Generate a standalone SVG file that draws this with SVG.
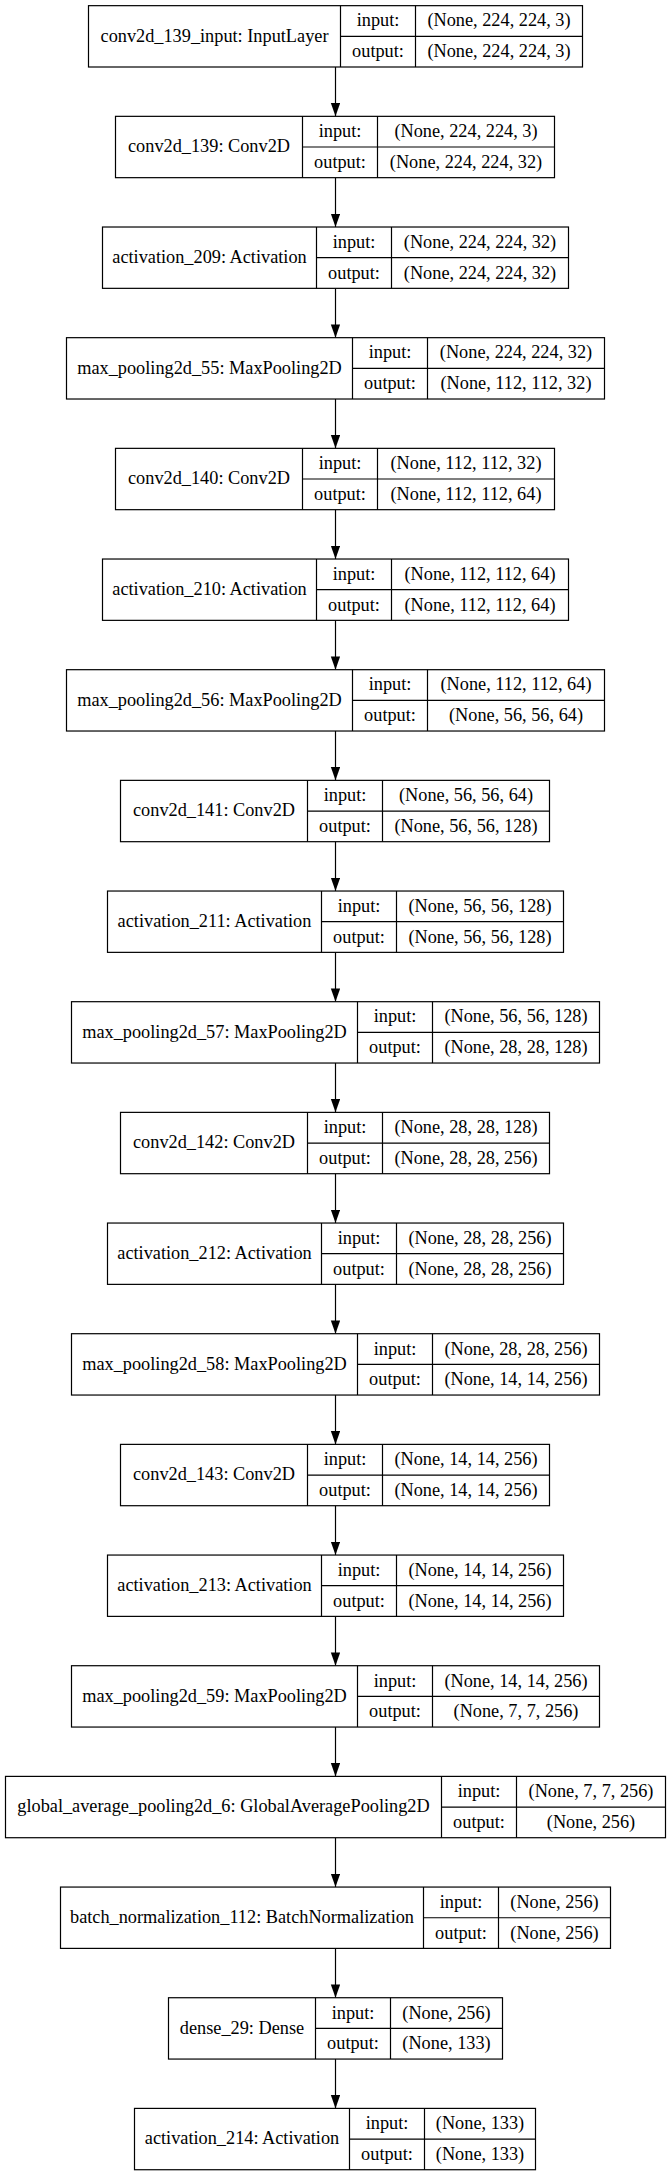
<svg xmlns="http://www.w3.org/2000/svg" width="671" height="2176" viewBox="0 0 671 2176">
<style>
.bx{fill:#fff;stroke:#000;stroke-width:1.2}
.ln{stroke:#000;stroke-width:1.2;fill:none}
text{font-family:"Liberation Serif","Times New Roman",serif;font-size:18.3px;fill:#000;text-anchor:middle}
.edge{stroke:#000;stroke-width:1.2;fill:none;marker-end:url(#arr)}
</style>
<defs>
<marker id="arr" markerUnits="userSpaceOnUse" markerWidth="14" markerHeight="10" refX="13.3" refY="4.67" orient="auto">
<path d="M0,0 L13.3,4.67 L0,9.33 z" fill="#000"/>
</marker>
</defs>
<rect width="671" height="2176" fill="#fff"/>
<g id="connectors">
<path class="edge" d="M335.5,67.0 V116.34"/>
<path class="edge" d="M335.5,177.67 V227.01"/>
<path class="edge" d="M335.5,288.34 V337.68"/>
<path class="edge" d="M335.5,399.01 V448.35"/>
<path class="edge" d="M335.5,509.68 V559.02"/>
<path class="edge" d="M335.5,620.35 V669.69"/>
<path class="edge" d="M335.5,731.02 V780.36"/>
<path class="edge" d="M335.5,841.69 V891.03"/>
<path class="edge" d="M335.5,952.36 V1001.70"/>
<path class="edge" d="M335.5,1063.03 V1112.37"/>
<path class="edge" d="M335.5,1173.70 V1223.04"/>
<path class="edge" d="M335.5,1284.37 V1333.71"/>
<path class="edge" d="M335.5,1395.04 V1444.38"/>
<path class="edge" d="M335.5,1505.71 V1555.05"/>
<path class="edge" d="M335.5,1616.38 V1665.72"/>
<path class="edge" d="M335.5,1727.05 V1776.39"/>
<path class="edge" d="M335.5,1837.72 V1887.06"/>
<path class="edge" d="M335.5,1948.39 V1997.73"/>
<path class="edge" d="M335.5,2059.06 V2108.40"/>
</g>

<g id="node0" transform="translate(0,5.67)">
<rect class="bx" x="88.5" y="0" width="494" height="61.33"/>
<path class="ln" d="M340.5,0 V61.33 M415.5,0 V61.33 M340.5,30.67 H582.5"/>
<text x="214.5" y="36.1">conv2d_139_input: InputLayer</text>
<text x="378" y="20.8">input:</text><text x="378" y="51.5">output:</text>
<text x="499" y="20.8">(None, 224, 224, 3)</text><text x="499" y="51.5">(None, 224, 224, 3)</text>
</g>

<g id="node1" transform="translate(0,116.34)">
<rect class="bx" x="115.5" y="0" width="439" height="61.33"/>
<path class="ln" d="M302.5,0 V61.33 M377.5,0 V61.33 M302.5,30.67 H554.5"/>
<text x="209" y="36.1">conv2d_139: Conv2D</text>
<text x="340" y="20.8">input:</text><text x="340" y="51.5">output:</text>
<text x="466" y="20.8">(None, 224, 224, 3)</text><text x="466" y="51.5">(None, 224, 224, 32)</text>
</g>

<g id="node2" transform="translate(0,227.01)">
<rect class="bx" x="102.5" y="0" width="466" height="61.33"/>
<path class="ln" d="M316.5,0 V61.33 M391.5,0 V61.33 M316.5,30.67 H568.5"/>
<text x="209.5" y="36.1">activation_209: Activation</text>
<text x="354" y="20.8">input:</text><text x="354" y="51.5">output:</text>
<text x="480" y="20.8">(None, 224, 224, 32)</text><text x="480" y="51.5">(None, 224, 224, 32)</text>
</g>

<g id="node3" transform="translate(0,337.68)">
<rect class="bx" x="66.5" y="0" width="538" height="61.33"/>
<path class="ln" d="M352.5,0 V61.33 M427.5,0 V61.33 M352.5,30.67 H604.5"/>
<text x="209.5" y="36.1">max_pooling2d_55: MaxPooling2D</text>
<text x="390" y="20.8">input:</text><text x="390" y="51.5">output:</text>
<text x="516" y="20.8">(None, 224, 224, 32)</text><text x="516" y="51.5">(None, 112, 112, 32)</text>
</g>

<g id="node4" transform="translate(0,448.35)">
<rect class="bx" x="115.5" y="0" width="439" height="61.33"/>
<path class="ln" d="M302.5,0 V61.33 M377.5,0 V61.33 M302.5,30.67 H554.5"/>
<text x="209" y="36.1">conv2d_140: Conv2D</text>
<text x="340" y="20.8">input:</text><text x="340" y="51.5">output:</text>
<text x="466" y="20.8">(None, 112, 112, 32)</text><text x="466" y="51.5">(None, 112, 112, 64)</text>
</g>

<g id="node5" transform="translate(0,559.02)">
<rect class="bx" x="102.5" y="0" width="466" height="61.33"/>
<path class="ln" d="M316.5,0 V61.33 M391.5,0 V61.33 M316.5,30.67 H568.5"/>
<text x="209.5" y="36.1">activation_210: Activation</text>
<text x="354" y="20.8">input:</text><text x="354" y="51.5">output:</text>
<text x="480" y="20.8">(None, 112, 112, 64)</text><text x="480" y="51.5">(None, 112, 112, 64)</text>
</g>

<g id="node6" transform="translate(0,669.69)">
<rect class="bx" x="66.5" y="0" width="538" height="61.33"/>
<path class="ln" d="M352.5,0 V61.33 M427.5,0 V61.33 M352.5,30.67 H604.5"/>
<text x="209.5" y="36.1">max_pooling2d_56: MaxPooling2D</text>
<text x="390" y="20.8">input:</text><text x="390" y="51.5">output:</text>
<text x="516" y="20.8">(None, 112, 112, 64)</text><text x="516" y="51.5">(None, 56, 56, 64)</text>
</g>

<g id="node7" transform="translate(0,780.36)">
<rect class="bx" x="120.5" y="0" width="429" height="61.33"/>
<path class="ln" d="M307.5,0 V61.33 M382.5,0 V61.33 M307.5,30.67 H549.5"/>
<text x="214" y="36.1">conv2d_141: Conv2D</text>
<text x="345" y="20.8">input:</text><text x="345" y="51.5">output:</text>
<text x="466" y="20.8">(None, 56, 56, 64)</text><text x="466" y="51.5">(None, 56, 56, 128)</text>
</g>

<g id="node8" transform="translate(0,891.03)">
<rect class="bx" x="107.5" y="0" width="456" height="61.33"/>
<path class="ln" d="M321.5,0 V61.33 M396.5,0 V61.33 M321.5,30.67 H563.5"/>
<text x="214.5" y="36.1">activation_211: Activation</text>
<text x="359" y="20.8">input:</text><text x="359" y="51.5">output:</text>
<text x="480" y="20.8">(None, 56, 56, 128)</text><text x="480" y="51.5">(None, 56, 56, 128)</text>
</g>

<g id="node9" transform="translate(0,1001.70)">
<rect class="bx" x="71.5" y="0" width="528" height="61.33"/>
<path class="ln" d="M357.5,0 V61.33 M432.5,0 V61.33 M357.5,30.67 H599.5"/>
<text x="214.5" y="36.1">max_pooling2d_57: MaxPooling2D</text>
<text x="395" y="20.8">input:</text><text x="395" y="51.5">output:</text>
<text x="516" y="20.8">(None, 56, 56, 128)</text><text x="516" y="51.5">(None, 28, 28, 128)</text>
</g>

<g id="node10" transform="translate(0,1112.37)">
<rect class="bx" x="120.5" y="0" width="429" height="61.33"/>
<path class="ln" d="M307.5,0 V61.33 M382.5,0 V61.33 M307.5,30.67 H549.5"/>
<text x="214" y="36.1">conv2d_142: Conv2D</text>
<text x="345" y="20.8">input:</text><text x="345" y="51.5">output:</text>
<text x="466" y="20.8">(None, 28, 28, 128)</text><text x="466" y="51.5">(None, 28, 28, 256)</text>
</g>

<g id="node11" transform="translate(0,1223.04)">
<rect class="bx" x="107.5" y="0" width="456" height="61.33"/>
<path class="ln" d="M321.5,0 V61.33 M396.5,0 V61.33 M321.5,30.67 H563.5"/>
<text x="214.5" y="36.1">activation_212: Activation</text>
<text x="359" y="20.8">input:</text><text x="359" y="51.5">output:</text>
<text x="480" y="20.8">(None, 28, 28, 256)</text><text x="480" y="51.5">(None, 28, 28, 256)</text>
</g>

<g id="node12" transform="translate(0,1333.71)">
<rect class="bx" x="71.5" y="0" width="528" height="61.33"/>
<path class="ln" d="M357.5,0 V61.33 M432.5,0 V61.33 M357.5,30.67 H599.5"/>
<text x="214.5" y="36.1">max_pooling2d_58: MaxPooling2D</text>
<text x="395" y="20.8">input:</text><text x="395" y="51.5">output:</text>
<text x="516" y="20.8">(None, 28, 28, 256)</text><text x="516" y="51.5">(None, 14, 14, 256)</text>
</g>

<g id="node13" transform="translate(0,1444.38)">
<rect class="bx" x="120.5" y="0" width="429" height="61.33"/>
<path class="ln" d="M307.5,0 V61.33 M382.5,0 V61.33 M307.5,30.67 H549.5"/>
<text x="214" y="36.1">conv2d_143: Conv2D</text>
<text x="345" y="20.8">input:</text><text x="345" y="51.5">output:</text>
<text x="466" y="20.8">(None, 14, 14, 256)</text><text x="466" y="51.5">(None, 14, 14, 256)</text>
</g>

<g id="node14" transform="translate(0,1555.05)">
<rect class="bx" x="107.5" y="0" width="456" height="61.33"/>
<path class="ln" d="M321.5,0 V61.33 M396.5,0 V61.33 M321.5,30.67 H563.5"/>
<text x="214.5" y="36.1">activation_213: Activation</text>
<text x="359" y="20.8">input:</text><text x="359" y="51.5">output:</text>
<text x="480" y="20.8">(None, 14, 14, 256)</text><text x="480" y="51.5">(None, 14, 14, 256)</text>
</g>

<g id="node15" transform="translate(0,1665.72)">
<rect class="bx" x="71.5" y="0" width="528" height="61.33"/>
<path class="ln" d="M357.5,0 V61.33 M432.5,0 V61.33 M357.5,30.67 H599.5"/>
<text x="214.5" y="36.1">max_pooling2d_59: MaxPooling2D</text>
<text x="395" y="20.8">input:</text><text x="395" y="51.5">output:</text>
<text x="516" y="20.8">(None, 14, 14, 256)</text><text x="516" y="51.5">(None, 7, 7, 256)</text>
</g>

<g id="node16" transform="translate(0,1776.39)">
<rect class="bx" x="5.5" y="0" width="660" height="61.33"/>
<path class="ln" d="M441.5,0 V61.33 M516.5,0 V61.33 M441.5,30.67 H665.5"/>
<text x="223.5" y="36.1">global_average_pooling2d_6: GlobalAveragePooling2D</text>
<text x="479" y="20.8">input:</text><text x="479" y="51.5">output:</text>
<text x="591" y="20.8">(None, 7, 7, 256)</text><text x="591" y="51.5">(None, 256)</text>
</g>

<g id="node17" transform="translate(0,1887.06)">
<rect class="bx" x="60.5" y="0" width="550" height="61.33"/>
<path class="ln" d="M423.5,0 V61.33 M498.5,0 V61.33 M423.5,30.67 H610.5"/>
<text x="242" y="36.1">batch_normalization_112: BatchNormalization</text>
<text x="461" y="20.8">input:</text><text x="461" y="51.5">output:</text>
<text x="554.5" y="20.8">(None, 256)</text><text x="554.5" y="51.5">(None, 256)</text>
</g>

<g id="node18" transform="translate(0,1997.73)">
<rect class="bx" x="168.5" y="0" width="334" height="61.33"/>
<path class="ln" d="M315.5,0 V61.33 M390.5,0 V61.33 M315.5,30.67 H502.5"/>
<text x="242" y="36.1">dense_29: Dense</text>
<text x="353" y="20.8">input:</text><text x="353" y="51.5">output:</text>
<text x="446.5" y="20.8">(None, 256)</text><text x="446.5" y="51.5">(None, 133)</text>
</g>

<g id="node19" transform="translate(0,2108.40)">
<rect class="bx" x="134.5" y="0" width="401" height="61.33"/>
<path class="ln" d="M349.5,0 V61.33 M424.5,0 V61.33 M349.5,30.67 H535.5"/>
<text x="242" y="36.1">activation_214: Activation</text>
<text x="387" y="20.8">input:</text><text x="387" y="51.5">output:</text>
<text x="480" y="20.8">(None, 133)</text><text x="480" y="51.5">(None, 133)</text>
</g>
</svg>
